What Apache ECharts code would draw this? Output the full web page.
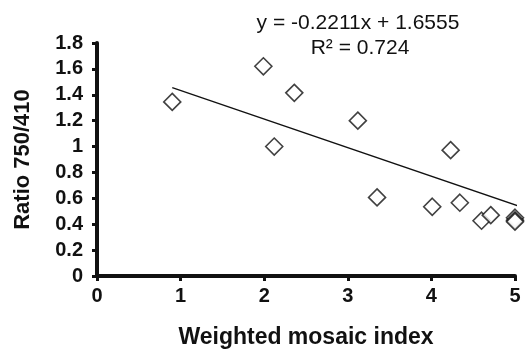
<!DOCTYPE html>
<html>
<head>
<meta charset="utf-8">
<script src="https://cdn.jsdelivr.net/npm/echarts@6/dist/echarts.min.js"></script>
<style>
  html, body { margin: 0; padding: 0; background: #fff; }
  #chart { width: 531px; height: 351px; }
</style>
</head>
<body>
<div id="chart"></div>
<script>
// scatter points
const mosaicIndex = [0.90, 1.99, 2.12, 2.36, 3.12, 3.35, 4.01, 4.23, 4.34, 4.60, 4.71, 5.00, 5.00, 5.00];
const ratio750 = [1.345, 1.62, 1.00, 1.415, 1.20, 0.607, 0.535, 0.972, 0.566, 0.427, 0.47, 0.45, 0.43, 0.42];

// linear trend line end points
const trendX = [0.9, 5.03];
const trendY = [1.456, 0.543];

const equationText = 'y = -0.2211x + 1.6555';
const r2Text = 'R² = 0.724';

const FONT = '"Liberation Sans", Arial, Helvetica, sans-serif';

const chart = echarts.init(document.getElementById('chart'));

chart.setOption({
  animation: false,
  grid: { left: 97, right: 16, top: 43, bottom: 75, containLabel: false, outerBoundsMode: 'none' },
  xAxis: {
    type: 'value',
    min: 0, max: 5, interval: 1,
    name: 'Weighted mosaic index',
    nameLocation: 'middle',
    nameGap: 50,
    nameTextStyle: { fontFamily: FONT, fontWeight: 'bold', fontSize: 23, color: '#111' },
    axisLine: { show: true, onZero: false, lineStyle: { color: '#111', width: 4 } },
    axisTick: { show: true, length: 5, lineStyle: { color: '#111', width: 3 } },
    axisLabel: { margin: 10, fontFamily: FONT, fontWeight: 'bold', fontSize: 20, color: '#111' },
    splitLine: { show: false }
  },
  yAxis: {
    type: 'value',
    min: 0, max: 1.8, interval: 0.2,
    name: 'Ratio 750/410',
    nameLocation: 'middle',
    nameGap: 63,
    nameRotate: 90,
    nameTextStyle: { fontFamily: FONT, fontWeight: 'bold', fontSize: 22, color: '#111' },
    axisLine: { show: true, lineStyle: { color: '#111', width: 4 } },
    axisTick: { show: true, length: 5, lineStyle: { color: '#111', width: 3 } },
    axisLabel: { margin: 14, fontFamily: FONT, fontWeight: 'bold', fontSize: 20, color: '#111' },
    splitLine: { show: false }
  },
  graphic: [
    { type: 'text', x: 358, y: 23, style: { text: equationText, textAlign: 'center', textVerticalAlign: 'middle', font: '21px ' + FONT, fill: '#111' } },
    { type: 'text', x: 360, y: 48, style: { text: r2Text, textAlign: 'center', textVerticalAlign: 'middle', font: '21px ' + FONT, fill: '#111' } }
  ],
  series: [
    {
      type: 'line',
      data: trendX.map((x, i) => [x, trendY[i]]),
      symbol: 'none',
      clip: false,
      lineStyle: { color: '#111', width: 1.3 },
      z: 2
    },
    {
      type: 'scatter',
      data: mosaicIndex.map((x, i) => [x, ratio750[i]]),
      symbol: 'diamond',
      symbolSize: 17,
      clip: false,
      itemStyle: { color: '#fff', borderColor: '#111', borderWidth: 1.6 },
      z: 3
    }
  ]
});
</script>
</body>
</html>
